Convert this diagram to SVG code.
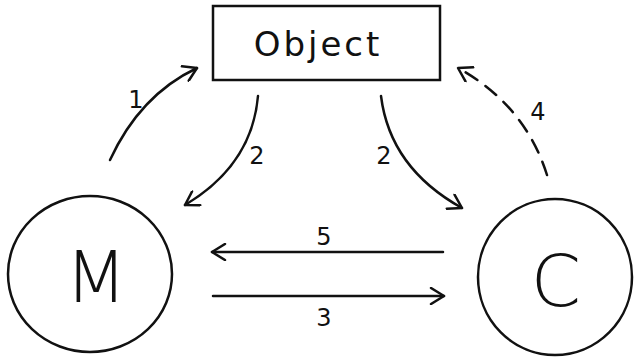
<svg xmlns="http://www.w3.org/2000/svg" width="636" height="360" viewBox="0 0 636 360">
<style>
.ln{fill:none;stroke:#111;stroke-width:2.5;stroke-linecap:round}
.lbl{font-family:"DejaVu Sans","Liberation Sans",sans-serif;font-size:24px;fill:#111;text-anchor:middle}
.big{font-family:"DejaVu Sans","Liberation Sans",sans-serif;font-weight:300;fill:#111;text-anchor:middle}
</style>
<defs>
<marker id="ah" viewBox="0 0 18 18" refX="16" refY="9" markerWidth="18" markerHeight="18" markerUnits="userSpaceOnUse" orient="auto">
<path d="M3,1 L16,9 L3,17" fill="none" stroke="#111" stroke-width="2.5" stroke-linecap="round" stroke-linejoin="round"/>
</marker>
</defs>
<rect width="636" height="360" fill="#fff"/>
<g id="object">
<rect class="ln" x="213" y="6" width="227" height="74"/>
<text x="318" y="56" font-family="DejaVu Sans, Liberation Sans, sans-serif" font-size="34" fill="#111" text-anchor="middle" letter-spacing="3">Object</text>
</g>
<g id="M">
<ellipse class="ln" cx="90" cy="274" rx="82" ry="78"/>
<text class="big" x="96" y="302" font-size="72">M</text>
</g>
<g id="C">
<ellipse class="ln" cx="555" cy="277" rx="77" ry="78"/>
<text class="big" x="556" y="306" font-size="72">C</text>
</g>
<g id="connectors">
<path class="ln" d="M110,160 Q140,95 197,68" marker-end="url(#ah)"/>
<path class="ln" d="M258,96 Q252,165 185,205" marker-end="url(#ah)"/>
<path class="ln" d="M381,96 Q390,168 462,208" marker-end="url(#ah)"/>
<path class="ln" d="M547,175 Q525,105 458,68" stroke-dasharray="14,10" marker-end="url(#ah)"/>
<path class="ln" d="M443,252 L212,252" marker-end="url(#ah)"/>
<path class="ln" d="M213,296 L444,296" marker-end="url(#ah)"/>
</g>
<g id="labels">
<text class="lbl" x="136" y="108">1</text>
<text class="lbl" x="257" y="164">2</text>
<text class="lbl" x="384" y="164">2</text>
<text class="lbl" x="538" y="120">4</text>
<text class="lbl" x="324" y="245">5</text>
<text class="lbl" x="324" y="326">3</text>
</g>
</svg>
